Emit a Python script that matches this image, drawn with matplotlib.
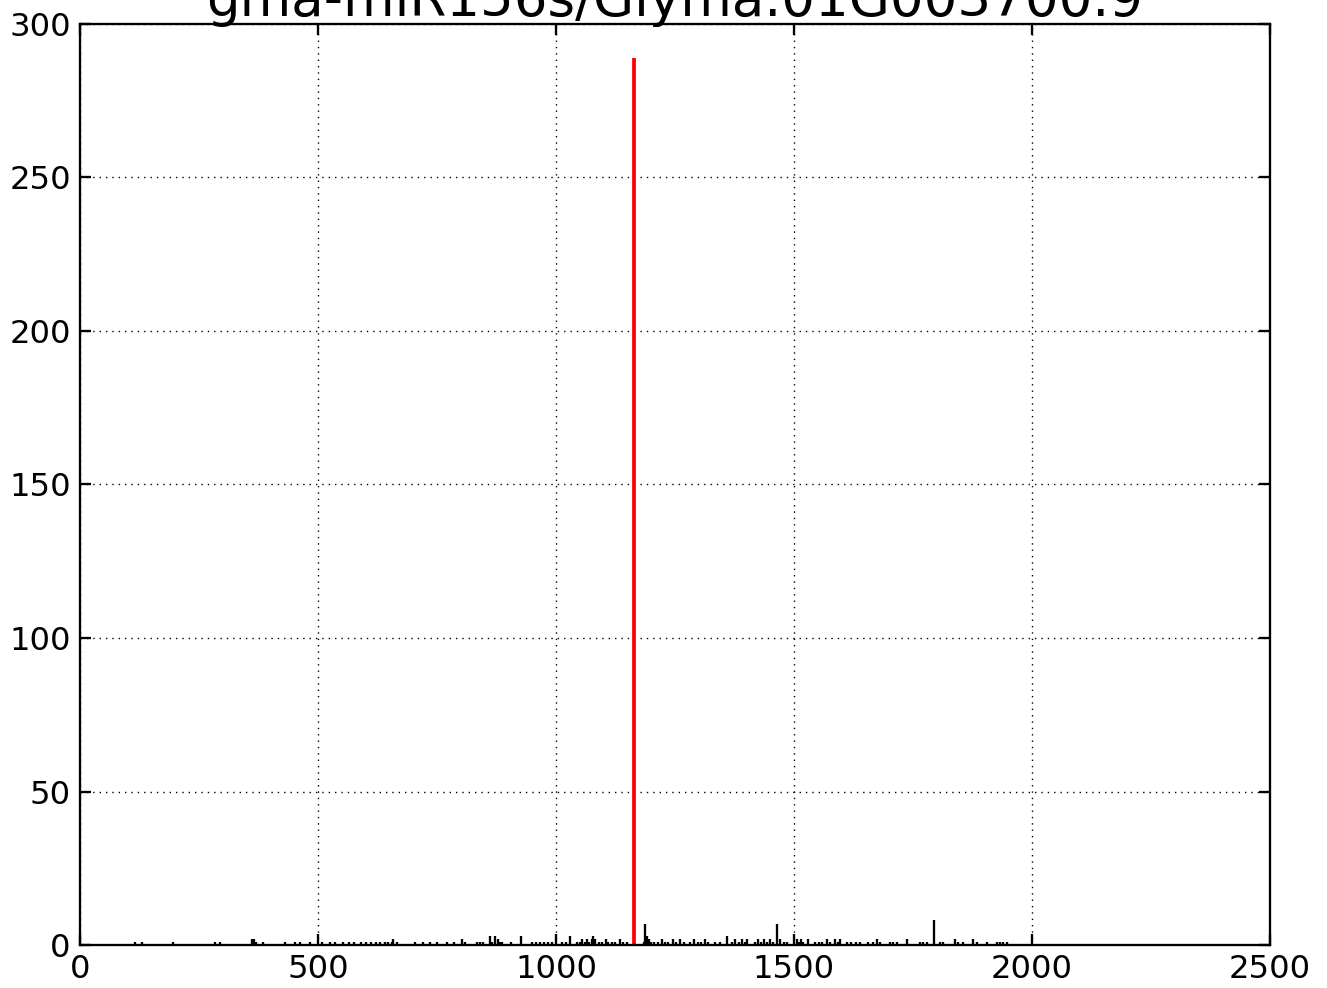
import numpy as np
import matplotlib
matplotlib.use("Agg")
import matplotlib.pyplot as plt

TITLE = "gma-miR156s/Glyma.01G003700.9"

# degradome reads: position on transcript, read count
positions = [115, 130, 196, 284, 294, 361, 366, 370, 385, 430, 452, 462, 483,
             508, 525, 536, 553, 565, 575, 590, 600, 612, 622, 630, 640, 648, 655, 658, 666,
             704, 720, 735, 750, 770, 785, 802, 809, 834, 840, 847,
             861, 866, 872, 878, 882, 887, 905, 927, 950, 958, 966, 975, 983, 992,
             1012, 1020, 1029, 1044, 1050, 1054, 1061, 1066, 1070, 1075, 1078, 1082, 1090,
             1097, 1104, 1110, 1118, 1124, 1134, 1141, 1150, 1164,
             1184, 1188, 1192, 1196, 1200, 1205,
             1215, 1222, 1228, 1236, 1245, 1252, 1260, 1268, 1282, 1290, 1298, 1305, 1312,
             1320, 1335, 1345,
             1359, 1370, 1376, 1384, 1390, 1397, 1401, 1418, 1424, 1430, 1437, 1443, 1450, 1455,
             1464, 1471, 1478, 1485, 1506, 1510, 1514, 1519, 1529, 1544, 1552, 1559, 1569,
             1576, 1586, 1592, 1597,
             1611, 1620, 1630, 1639, 1655, 1665, 1674, 1681, 1702, 1709, 1716, 1737, 1765,
             1772, 1779, 1794, 1807, 1813, 1838, 1845, 1855, 1876, 1884, 1905, 1926, 1933,
             1940, 1948]
counts = [1, 1, 1, 1, 1, 2, 2, 1, 1, 1, 1, 1, 1,
          1, 1, 1, 1, 1, 1, 1, 1, 1, 1, 1, 1, 1, 1, 2, 1,
          1, 1, 1, 1, 1, 1, 2, 1, 1, 1, 1,
          3, 1, 3, 2, 1, 1, 1, 3, 1, 1, 1, 1, 1, 1,
          1, 1, 3, 1, 1, 2, 1, 2, 1, 2, 3, 2, 1,
          1, 2, 1, 1, 1, 2, 1, 1, 289,
          1, 7, 3, 2, 1, 1,
          1, 2, 1, 1, 2, 1, 2, 1, 1, 2, 1, 1, 2,
          1, 1, 1,
          3, 1, 2, 1, 2, 1, 2, 1, 2, 1, 2, 1, 2, 1,
          7, 2, 1, 1, 2, 1, 2, 1, 2, 1, 1, 1, 2,
          1, 2, 1, 2,
          1, 1, 1, 1, 1, 1, 2, 1, 1, 1, 1, 2, 1,
          1, 1, 8, 1, 1, 2, 1, 1, 2, 1, 1, 1, 1,
          1, 1]

cleave_pos = 1164
cleave_count = 289

DPI = 166
fig = plt.figure(figsize=(1327 / DPI, 988 / DPI), dpi=DPI, facecolor="white")
ax = fig.add_axes([80 / 1327, 43 / 988, 1190 / 1327, 921 / 988])

ax.vlines(positions, 0, counts, colors="black", linewidth=1.0)
ax.vlines([cleave_pos], 0, [cleave_count], colors="red", linewidth=1.6)

ax.set_xlim(0, 2500)
ax.set_ylim(0, 300)
ax.set_xticks([0, 500, 1000, 1500, 2000, 2500])
ax.set_yticks([0, 50, 100, 150, 200, 250, 300])

ax.grid(True, color="black", linestyle=(0, (1, 3.6)), linewidth=0.6)
ax.set_axisbelow(True)
ax.tick_params(direction="in", length=4.7, width=1.0, labelsize=14, pad=4,
               top=True, right=True, colors="black")
for s in ax.spines.values():
    s.set_linewidth(1.0)

ax.set_title(TITLE, fontsize=23, pad=3.5)

fig.savefig("out.png", dpi=DPI, facecolor="white")
